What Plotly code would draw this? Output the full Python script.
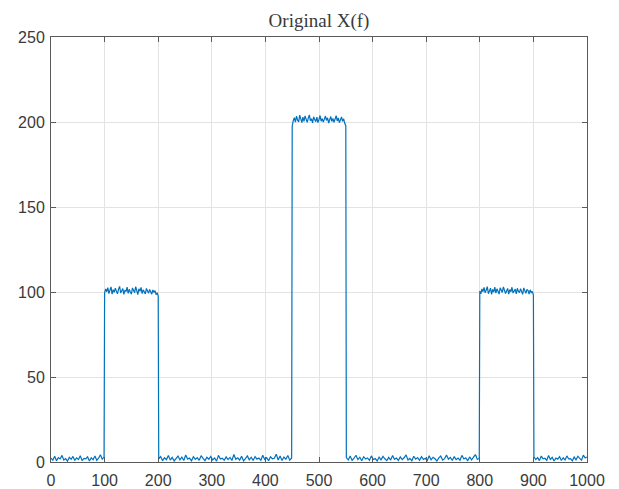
import numpy as np
import plotly.graph_objects as go

# Spectrum magnitude |X(f)|: noisy floor with three rectangular bands
low_1 = [2.3, 1.1, 3.4, 0.7, 2.6, 1.8, 3.9, 1.2, 2.0, 0.5, 2.8, 1.6, 3.3, 0.9, 2.4,
         1.4, 3.7, 0.8, 2.1, 1.9, 3.0, 0.6, 2.5, 1.3, 3.6, 1.0, 2.2, 4.3, 1.7, 2.9]
band_1 = [99.5, 101.8, 100.2, 102.6, 99.1, 100.9, 103.0, 98.7, 101.4, 99.8, 102.2,
          100.5, 98.9, 101.7, 103.3, 99.4, 100.8, 102.0, 98.6, 101.1, 100.3, 102.9,
          99.2, 101.6, 100.0, 98.8, 102.4, 101.0, 99.6, 103.1, 100.7, 98.5, 101.9,
          100.4, 102.7, 99.0, 101.3, 100.1, 98.9, 102.1, 100.6, 99.3, 101.5, 100.2,
          98.7, 101.2, 99.9, 100.8, 98.4, 99.6, 97.8]
low_2 = [1.9, 3.2, 0.8, 2.5, 1.4, 3.8, 1.1, 2.7, 0.6, 2.0, 3.5, 1.3, 2.9, 0.9, 4.1,
         1.7, 2.3, 0.7, 3.1, 1.5, 2.6, 1.0, 3.7, 2.1, 0.8, 2.8, 1.6, 3.3, 1.2, 2.4,
         0.5, 3.9, 1.8, 2.2, 1.0, 3.0, 1.4, 2.7, 0.9, 4.4, 1.6, 2.5, 1.1, 3.4, 0.7,
         2.0, 3.6, 1.3, 2.8, 0.9, 3.2, 1.7, 2.3, 1.0, 4.0, 1.5, 2.6, 0.8, 3.1, 1.9,
         2.2, 4.6, 1.2, 3.5, 0.9, 2.9, 1.6, 3.8, 1.1, 2.4]
band_2 = [197.5, 200.8, 202.6, 199.9, 203.4, 201.2, 200.1, 204.0, 201.7, 199.6, 202.9,
          200.4, 203.6, 201.0, 199.8, 202.3, 204.2, 200.7, 201.9, 199.5, 203.1, 201.4,
          200.2, 202.8, 199.7, 201.6, 203.8, 200.5, 202.0, 199.9, 201.3, 203.5, 200.9,
          202.5, 199.4, 201.8, 203.2, 200.3, 202.1, 199.8, 201.5, 203.7, 200.6, 202.4,
          199.6, 201.1, 203.0, 200.4, 201.9, 199.2, 197.8]
low_3 = [2.6, 1.2, 3.5, 0.9, 2.2, 4.0, 1.4, 2.8, 0.7, 3.1, 1.8, 2.4, 1.0, 3.6, 1.5,
         2.0, 0.6, 2.9, 1.3, 3.3, 1.9, 0.8, 2.7, 1.1, 3.8, 1.6, 2.3, 0.9, 3.0, 1.4,
         2.5, 4.2, 1.2, 2.1, 0.7, 3.4, 1.7, 2.6, 1.0, 3.1, 1.5, 2.2, 0.8, 3.7, 1.3,
         2.8, 1.9, 0.6, 2.4, 3.5, 1.1, 2.0, 4.1, 1.6, 2.7, 0.9, 3.2, 1.4, 2.3, 1.0,
         3.9, 1.8, 2.5, 0.7, 3.0, 1.2, 2.9, 4.4, 1.5, 2.1]
band_3 = [100.6, 98.9, 101.8, 100.2, 102.7, 99.5, 101.1, 103.2, 99.0, 100.7, 102.3,
          98.6, 101.5, 100.0, 102.9, 99.3, 101.9, 100.4, 98.8, 102.5, 100.9, 99.7,
          103.0, 101.2, 99.1, 100.6, 102.1, 98.7, 101.4, 100.1, 102.8, 99.4, 100.8,
          101.7, 98.9, 102.2, 100.3, 99.6, 101.9, 100.5, 98.6, 102.4, 100.0, 99.2,
          101.6, 100.9, 98.8, 101.3, 99.7, 100.4, 98.2]
low_4 = [3.1, 1.4, 2.6, 0.8, 3.5, 1.9, 2.2, 1.0, 3.8, 1.5, 2.7, 0.6, 2.3, 1.7, 3.2,
         0.9, 2.5, 1.2, 3.6, 1.8, 2.0, 0.7, 2.9, 1.3, 3.4, 2.1, 1.1, 4.0, 2.4, 3.0]

# frequency span covered by each segment
segment_spans = [(0, 99), (100, 200), (201, 449), (450, 550),
                 (551, 799), (800, 900), (901, 1000)]
segment_values = [low_1, band_1, low_2, band_2, low_3, band_3, low_4]

f = np.concatenate([np.linspace(a, b, len(v)) for (a, b), v in zip(segment_spans, segment_values)])
mag = np.concatenate([np.asarray(v, dtype=float) for v in segment_values])

x_ticks = list(range(0, 1001, 100))
y_ticks = list(range(0, 251, 50))

fig = go.Figure(go.Scatter(x=f, y=mag, mode="lines",
                           line=dict(color="#0072BD", width=1.2), showlegend=False))

axis_style = dict(showline=True, linecolor="#5a5a5a", linewidth=1, mirror="ticks",
                  ticks="inside", ticklen=5, tickcolor="#5a5a5a",
                  showgrid=True, gridcolor="#e3e3e3", gridwidth=1, zeroline=False,
                  automargin=False,
                  tickfont=dict(family="Liberation Sans, Arial", size=16, color="#3a3a3a"))

fig.update_xaxes(range=[0, 1000], tickvals=x_ticks, ticklabelstandoff=4, **axis_style)
fig.update_yaxes(range=[0, 250], tickvals=y_ticks, ticklabelstandoff=2, **axis_style)

fig.update_layout(
    width=619, height=489,
    margin=dict(l=51, r=32, t=37, b=27),
    paper_bgcolor="white", plot_bgcolor="white",
    title=dict(text="Original X(f)", x=0.5, xref="paper", y=1 - 20 / 489,
               yref="container", yanchor="middle", xanchor="center",
               font=dict(family="Liberation Serif, Times New Roman", size=19, color="#3a3a3a")),
)

fig.write_html("out.html")
